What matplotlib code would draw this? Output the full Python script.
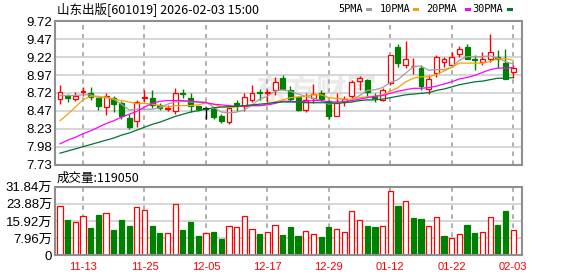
import numpy as np
import pandas as pd
import matplotlib
matplotlib.use('Agg')
import matplotlib.pyplot as plt
from matplotlib.patches import Rectangle

plt.rcParams['font.family'] = ['Liberation Sans', 'Noto Sans CJK SC', 'DejaVu Sans']

title = '山东出版[601019] 2026-02-03 15:00'

# trading days (new-year holiday removed)
days = pd.bdate_range('2025-11-10', '2026-02-03').drop(pd.to_datetime(['2026-01-01', '2026-01-02']))
dates = days.strftime('%m-%d').tolist()

opens = [8.64, 8.69, 8.64, 8.74, 8.73, 8.65, 8.53, 8.66, 8.59, 8.375,
         8.34, 8.65, 8.66, 8.56, 8.50, 8.48, 8.73, 8.66, 8.54, 8.51,
         8.50, 8.41, 8.32, 8.58, 8.55, 8.63, 8.735, 8.72, 8.76, 8.93,
         8.76, 8.665, 8.49, 8.65, 8.73, 8.615, 8.40, 8.615, 8.68, 8.89,
         8.90, 8.68, 8.63, 8.86, 9.36, 9.11, 9.095, 9.075, 8.785, 9.00,
         9.15, 9.11, 9.265, 9.36, 9.195, 9.15, 9.195, 9.22, 9.14, 9.02]
highs = [8.84, 8.71, 8.74, 8.81, 8.81, 8.65, 8.73, 8.68, 8.61, 8.44,
         8.63, 8.77, 8.76, 8.59, 8.56, 8.79, 8.78, 8.72, 8.55, 8.53,
         8.53, 8.43, 8.53, 8.63, 8.73, 8.83, 8.78, 8.785, 8.95, 8.97,
         8.82, 8.68, 8.72, 8.85, 8.76, 8.63, 8.72, 8.68, 8.91, 8.955,
         8.92, 8.72, 8.79, 9.25, 9.40, 9.45, 9.21, 9.11, 8.97, 9.255,
         9.22, 9.29, 9.38, 9.41, 9.255, 9.29, 9.55, 9.315, 9.33, 9.12]
lows = [8.57, 8.60, 8.62, 8.69, 8.63, 8.49, 8.42, 8.46, 8.36, 8.23,
        8.26, 8.60, 8.51, 8.49, 8.48, 8.44, 8.66, 8.46, 8.47, 8.37,
        8.37, 8.31, 8.29, 8.47, 8.47, 8.60, 8.63, 8.60, 8.70, 8.76,
        8.62, 8.47, 8.46, 8.58, 8.61, 8.37, 8.40, 8.54, 8.66, 8.76,
        8.67, 8.60, 8.62, 8.84, 9.08, 9.07, 8.99, 8.77, 8.71, 8.95,
        9.09, 9.09, 9.23, 9.19, 9.04, 9.11, 9.16, 9.07, 8.92, 8.93]
closes = [8.74, 8.65, 8.69, 8.755, 8.67, 8.54, 8.68, 8.57, 8.40, 8.255,
          8.60, 8.67, 8.56, 8.51, 8.52, 8.725, 8.715, 8.54, 8.505, 8.51,
          8.39, 8.335, 8.51, 8.56, 8.67, 8.73, 8.72, 8.735, 8.88, 8.78,
          8.64, 8.49, 8.63, 8.71, 8.635, 8.40, 8.59, 8.64, 8.88, 8.93,
          8.74, 8.66, 8.77, 9.25, 9.14, 9.20, 9.10, 8.82, 8.92, 9.22,
          9.19, 9.23, 9.33, 9.20, 9.185, 9.195, 9.29, 9.195, 8.92, 9.065]
vol = [227000, 164000, 155000, 181000, 127000, 187000, 195000, 117000, 164000, 136000,
       223000, 210000, 136000, 104000, 102000, 238000, 117000, 155000, 90000, 102000,
       108000, 76000, 134000, 131000, 181000, 122000, 99000, 108000, 139000, 94000,
       131000, 90000, 113000, 97000, 85000, 131000, 122000, 108000, 206000, 164000,
       136000, 131000, 134000, 297000, 229000, 252000, 173000, 168000, 134000, 176000,
       90000, 79000, 97000, 141000, 104000, 108000, 176000, 141000, 206000, 119050]

ma5 = [8.69, 8.69, 8.69, 8.70, 8.70, 8.66, 8.67, 8.64, 8.57, 8.49,
       8.50, 8.50, 8.50, 8.52, 8.57, 8.60, 8.61, 8.60, 8.60, 8.60,
       8.53, 8.46, 8.45, 8.46, 8.49, 8.56, 8.64, 8.68, 8.75, 8.77,
       8.75, 8.71, 8.68, 8.65, 8.62, 8.57, 8.59, 8.60, 8.63, 8.69,
       8.76, 8.77, 8.80, 8.87, 8.91, 9.00, 9.09, 9.10, 9.04, 9.05,
       9.05, 9.08, 9.18, 9.23, 9.23, 9.23, 9.24, 9.21, 9.16, 9.13]
ma10 = [8.34, 8.43, 8.53, 8.63, 8.68, 8.68, 8.66, 8.64, 8.62, 8.60,
        8.58, 8.58, 8.57, 8.55, 8.53, 8.55, 8.55, 8.55, 8.56, 8.59,
        8.57, 8.53, 8.53, 8.53, 8.55, 8.55, 8.55, 8.57, 8.60, 8.63,
        8.66, 8.67, 8.68, 8.70, 8.70, 8.66, 8.65, 8.64, 8.64, 8.66,
        8.67, 8.68, 8.70, 8.75, 8.80, 8.88, 8.93, 8.95, 8.95, 8.98,
        9.03, 9.08, 9.14, 9.14, 9.14, 9.14, 9.16, 9.20, 9.20, 9.18]
ma20 = [8.02, 8.07, 8.11, 8.16, 8.20, 8.25, 8.30, 8.34, 8.39, 8.43,
        8.47, 8.53, 8.58, 8.61, 8.62, 8.62, 8.62, 8.61, 8.60, 8.59,
        8.57, 8.56, 8.55, 8.54, 8.54, 8.55, 8.55, 8.56, 8.58, 8.61,
        8.61, 8.60, 8.61, 8.62, 8.62, 8.60, 8.60, 8.60, 8.62, 8.64,
        8.66, 8.68, 8.69, 8.72, 8.75, 8.77, 8.79, 8.79, 8.80, 8.82,
        8.85, 8.88, 8.92, 8.94, 8.97, 9.01, 9.05, 9.07, 9.07, 9.08]
ma30 = [7.89, 7.92, 7.95, 7.98, 8.01, 8.04, 8.07, 8.10, 8.14, 8.17,
        8.21, 8.25, 8.29, 8.32, 8.36, 8.40, 8.43, 8.46, 8.48, 8.50,
        8.52, 8.53, 8.535, 8.54, 8.55, 8.56, 8.57, 8.58, 8.595, 8.60,
        8.60, 8.60, 8.59, 8.59, 8.59, 8.59, 8.58, 8.59, 8.60, 8.62,
        8.63, 8.63, 8.64, 8.66, 8.68, 8.70, 8.71, 8.72, 8.73, 8.76,
        8.78, 8.81, 8.84, 8.86, 8.88, 8.89, 8.91, 8.93, 8.93, 8.94]

price_labels = ['7.73', '7.98', '8.23', '8.47', '8.72', '8.97', '9.22', '9.47', '9.72']
vol_labels = ['0', '7.96万', '15.92万', '23.88万', '31.84万']
vol_top = 318400
tick_days = ['11-13', '11-25', '12-05', '12-17', '12-29', '01-12', '01-22', '02-03']
ma_names = ['5PMA', '10PMA', '20PMA', '30PMA']
ma_colors = ['#a0a0a0', '#f5a300', '#ff00ff', '#007534']

RED, GREEN = '#ff0000', '#008000'
W, H = 578, 276

def box(x0, y0, x1, y1):
    # pixel box -> figure fraction
    return [x0 / W, 1 - y1 / H, (x1 - x0) / W, (y1 - y0) / H]

fig = plt.figure(figsize=(W / 100, H / 100), dpi=100)
ax = fig.add_axes(box(55, 21.3, 522, 164.7))
axv = fig.add_axes(box(55, 186.7, 522, 255.3))

o, h, l, c = map(np.array, (opens, highs, lows, closes))
x = np.arange(len(c))
tick_pos = [dates.index(d) for d in tick_days]

# candles
cols = np.where(c > o, RED, np.where(c < o, GREEN, 'black'))
face = np.where(c > o, 'white', cols)
ax.vlines(x, l, h, colors=cols, lw=1, zorder=3)
body_h = np.maximum(np.abs(c - o), 0.006)
body_b = np.where(c == o, o - 0.003, np.minimum(o, c))
ax.bar(x, body_h, bottom=body_b, width=0.64, color=face, edgecolor=cols, linewidth=0.9, zorder=4)

for ma, col in zip([ma5, ma10, ma20, ma30], ma_colors):
    ax.plot(x, ma, color=col, lw=0.9, zorder=5)

ax.text(0.56, 0.52, '东方财富', transform=ax.transAxes, fontsize=22, color='#eaeaea',
        ha='center', va='center', zorder=0, family='Noto Sans CJK SC', weight='bold')

ax.set_ylim(7.73, 9.72)
ax.set_yticks(np.linspace(7.73, 9.72, len(price_labels)))
ax.set_yticklabels(price_labels)
ax.set_xticks(tick_pos)
ax.set_xticklabels([])

# volume
vol_up = np.r_[True, c[1:] >= c[:-1]]
axv.bar(x, vol, width=0.68, color=np.where(vol_up, 'white', GREEN),
        edgecolor=np.where(vol_up, RED, GREEN), linewidth=0.9, zorder=3)
axv.set_ylim(0, vol_top)
axv.set_yticks(np.linspace(0, vol_top, len(vol_labels)))
axv.set_yticklabels(vol_labels)
axv.set_xticks(tick_pos)
axv.set_xticklabels(tick_days, color=RED, fontsize=8)

for a in (ax, axv):
    a.set_xlim(-0.65, 60.15)
    a.tick_params(length=0, labelsize=9.5, pad=2)
    a.tick_params(axis='x', labelsize=8, pad=5)
    a.grid(axis='y', color='#d0d0d0', lw=1.2)
    a.grid(axis='x', color='#a8a8a8', lw=1.3, linestyle='--', dashes=(2.5, 2.5))
    a.set_axisbelow(True)
    for s in a.spines.values():
        s.set_color('#8f8f8f')
        s.set_linewidth(1.5)
        s.set_zorder(6)

# header texts
fig.text(57 / W, 1 - 9 / H, title, family='Noto Sans CJK SC', fontsize=9, va='center')
fig.text(57 / W, 1 - 178 / H, f'成交量:{vol[-1]}', family='Noto Sans CJK SC', fontsize=9, va='center')

legend_x = [338, 380, 426, 472]
mark_x = [366, 413, 465, 507]
for name, col, tx, mx in zip(ma_names, ma_colors, legend_x, mark_x):
    fig.text(tx / W, 1 - 9 / H, name, family='DejaVu Sans Mono', fontsize=7.4, va='center')
    fig.add_artist(Rectangle((mx / W, 1 - 11 / H), 6 / W, 3 / H, transform=fig.transFigure,
                             color=col, lw=0))

fig.savefig('out.png', dpi=100)
